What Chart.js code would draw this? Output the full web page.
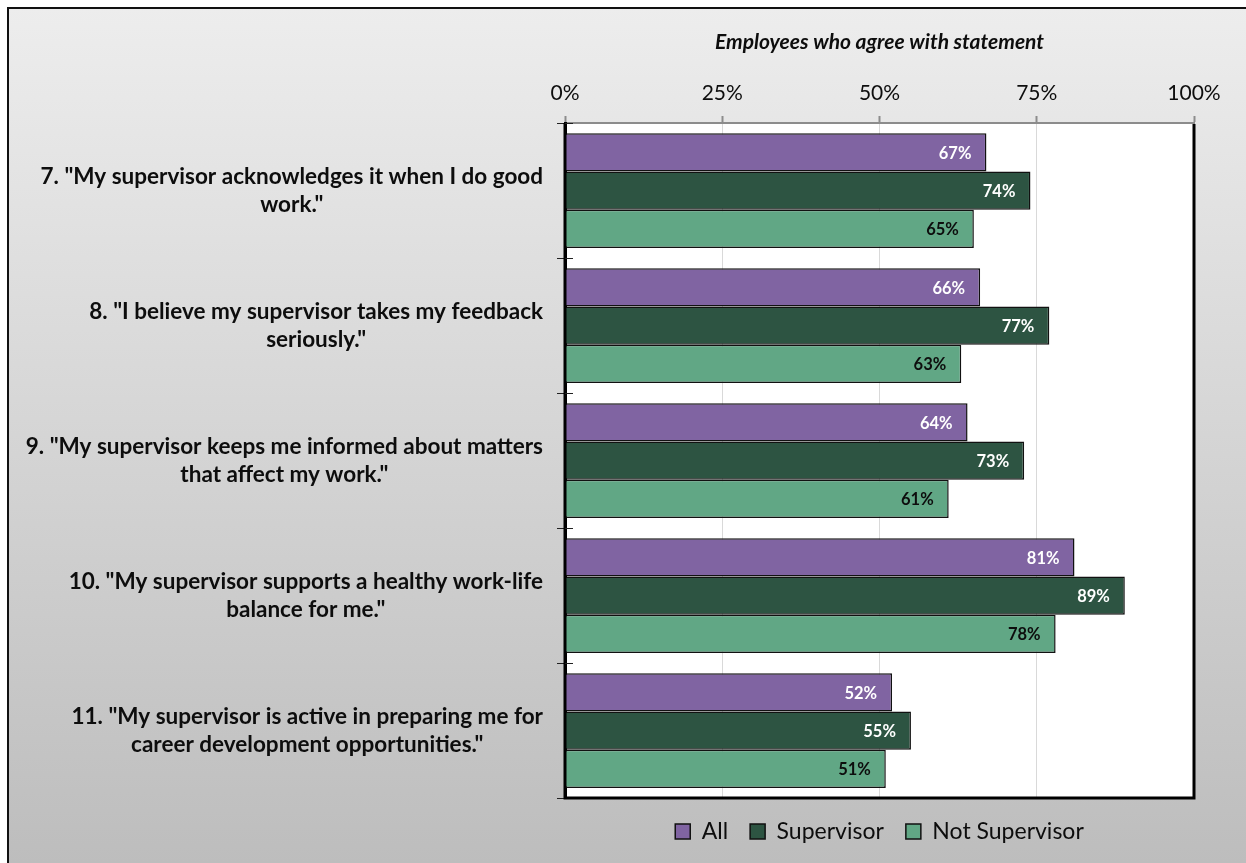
<!DOCTYPE html>
<html>
<head>
<meta charset="utf-8">
<title>Supervisor statements</title>
<script src="https://cdn.jsdelivr.net/npm/chart.js@4.4.1/dist/chart.umd.min.js"></script>
<style>
  html, body { margin: 0; padding: 0; background: #fff; }
  #wrap { width: 1246px; height: 863px; }
</style>
</head>
<body>
<div id="wrap"><canvas id="agreeChart" width="1246" height="863"></canvas></div>
<script>
// survey statements, each split into the lines it is printed on
const statements = [
    ['7. "My supervisor acknowledges it when I do good', 'work."'],
    ['8. "I believe my supervisor takes my feedback', 'seriously."'],
    ['9. "My supervisor keeps me informed about matters', 'that affect my work."'],
    ['10. "My supervisor supports a healthy work-life', 'balance for me."'],
    ['11. "My supervisor is active in preparing me for', 'career development opportunities."']
];
const seriesNames = ["All", "Supervisor", "Not Supervisor"];
const allEmployees = [67, 66, 64, 81, 52];
const supervisors = [74, 77, 73, 89, 55];
const notSupervisors = [65, 63, 61, 78, 51];
const percentTicks = [0, 25, 50, 75, 100];
const axisTitle = "Employees who agree with statement";

const FONT = "Lato, 'Open Sans', sans-serif";
Chart.defaults.font.family = FONT;
Chart.defaults.color = "#0d0d0d";

const barColors = ["#8064A2", "#2D5442", "#61A785"];
const labelColors = ["#ffffff", "#ffffff", "#0d0d0d"];

// grey gradient panel, frame and white plot area
const backdrop = {
    id: "backdrop",
    beforeDraw(chart) {
        const ctx = chart.ctx;
        const a = chart.chartArea;
        ctx.save();
        ctx.fillStyle = "#ffffff";
        ctx.fillRect(0, 0, chart.width, chart.height);
        const grad = ctx.createLinearGradient(0, 8, 0, chart.height);
        grad.addColorStop(0, "#ededed");
        grad.addColorStop(1, "#bdbdbd");
        ctx.fillStyle = grad;
        ctx.fillRect(8, 8, chart.width - 8, chart.height - 8);
        ctx.strokeStyle = "#111";
        ctx.lineWidth = 2;
        ctx.beginPath();
        ctx.moveTo(8, chart.height);
        ctx.lineTo(8, 8);
        ctx.lineTo(chart.width, 8);
        ctx.stroke();
        ctx.fillStyle = "#ffffff";
        ctx.fillRect(a.left, a.top, a.right - a.left, a.bottom - a.top);
        ctx.restore();
    },
    afterDraw(chart) {
        const ctx = chart.ctx;
        const a = chart.chartArea;
        const yScale = chart.scales.y;
        ctx.save();
        // plot frame on left, bottom and right
        ctx.strokeStyle = "#000";
        ctx.lineWidth = 3;
        ctx.beginPath();
        ctx.moveTo(a.left, a.top);
        ctx.lineTo(a.left, a.bottom);
        ctx.lineTo(a.right, a.bottom);
        ctx.lineTo(a.right, a.top + 1);
        ctx.stroke();

        // inner half of the category tick marks
        ctx.lineWidth = 1;
        ctx.strokeStyle = "#222";
        for (let i = 0; i < statements.length; i++) {
            const y = Math.round(yScale.getPixelForValue(i - 0.5)) + 0.5;
            ctx.beginPath();
            ctx.moveTo(a.left, y);
            ctx.lineTo(a.left + 8, y);
            ctx.stroke();
        }

        // statement labels: block right aligned, lines centred in the block
        ctx.font = "bold 22.5px " + FONT;
        ctx.fillStyle = "#0d0d0d";
        ctx.textAlign = "center";
        ctx.textBaseline = "middle";
        const lineHeight = 28;
        const rightEdge = a.left - 22;
        statements.forEach((lines, i) => {
            const widest = Math.max(...lines.map(l => ctx.measureText(l).width));
            const cx = rightEdge - widest / 2;
            const cy = yScale.getPixelForValue(i);
            const y0 = cy - (lines.length - 1) * lineHeight / 2;
            lines.forEach((l, k) => ctx.fillText(l, cx, y0 + k * lineHeight));
        });
        ctx.restore();
    }
};

// percentage printed inside the end of each bar
const valueLabels = {
    id: "valueLabels",
    afterDatasetsDraw(chart) {
        const ctx = chart.ctx;
        ctx.save();
        ctx.font = "bold 16.5px " + FONT;
        ctx.textAlign = "right";
        ctx.textBaseline = "middle";
        chart.data.datasets.forEach((ds, di) => {
            const meta = chart.getDatasetMeta(di);
            ctx.fillStyle = labelColors[di];
            meta.data.forEach((bar, i) => {
                ctx.fillText(ds.data[i] + "%", bar.x - 15, bar.y + 1);
            });
        });
        ctx.restore();
    }
};

const series = [allEmployees, supervisors, notSupervisors];

new Chart(document.getElementById("agreeChart"), {
    type: "bar",
    data: {
        labels: statements.map(s => s.join(" ")),
        datasets: series.map((values, i) => ({
            label: seriesNames[i],
            data: values,
            backgroundColor: barColors[i],
            borderColor: "#111",
            borderWidth: 1.5,
            categoryPercentage: 0.85,
            barPercentage: 1.0
        }))
    },
    options: {
        indexAxis: "y",
        responsive: false,
        animation: false,
        layout: { padding: { left: 0, right: 52, top: 0, bottom: 10 } },
        scales: {
            x: {
                position: "top",
                min: 0,
                max: 100,
                afterBuildTicks(scale) {
                    scale.ticks = percentTicks.map(v => ({ value: v }));
                },
                afterFit(scale) { scale.height = 123; },
                ticks: {
                    callback: v => v + "%",
                    font: { size: 21 },
                    color: "#0d0d0d",
                    padding: 10
                },
                grid: {
                    color: "#d9d9d9",
                    lineWidth: 1,
                    tickLength: 7,
                    tickColor: "#8c8c8c",
                    tickWidth: 2
                },
                border: { display: true, color: "#8c8c8c", width: 2 },
                title: {
                    display: true,
                    text: axisTitle,
                    font: { size: 21, weight: "bold", style: "italic" },
                    color: "#0d0d0d",
                    padding: { top: 30, bottom: 0 }
                }
            },
            y: {
                afterFit(scale) { scale.width = 565; },
                ticks: { display: false },
                grid: {
                    offset: true,
                    drawOnChartArea: false,
                    tickLength: 8,
                    tickColor: "#222",
                    tickWidth: 1
                },
                border: { display: true, color: "#000", width: 3 }
            }
        },
        plugins: {
            legend: {
                position: "bottom",
                fullSize: false,
                labels: {
                    boxWidth: 15,
                    boxHeight: 15,
                    padding: 22,
                    color: "#0d0d0d",
                    font: { size: 23 }
                }
            },
            tooltip: { enabled: false }
        }
    },
    plugins: [backdrop, valueLabels]
});
</script>
</body>
</html>
